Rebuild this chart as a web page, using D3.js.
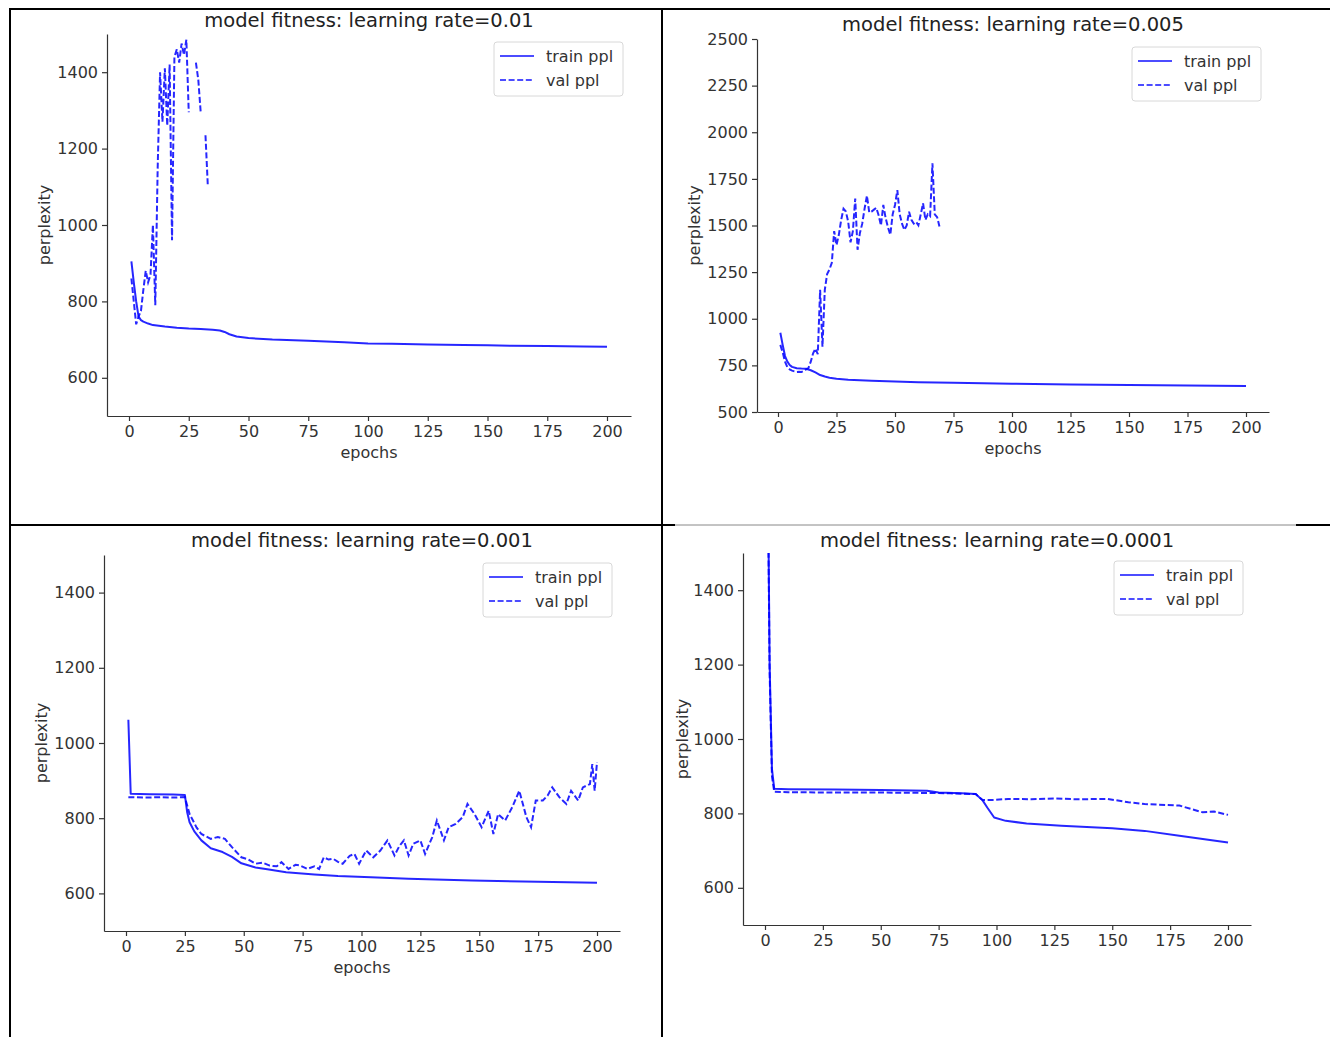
<!DOCTYPE html>
<html>
<head>
<meta charset="utf-8">
<script src="https://cdn.jsdelivr.net/npm/d3@7"></script>
<style>
  body { margin: 0; background: #fff; }
  svg { display: block; }
</style>
</head>
<body>
<script>
// values
const titles = [
  "model fitness: learning rate=0.01",
  "model fitness: learning rate=0.005",
  "model fitness: learning rate=0.001",
  "model fitness: learning rate=0.0001"
];
const xTicks = [0, 25, 50, 75, 100, 125, 150, 175, 200];
const yTicksSmall = [600, 800, 1000, 1200, 1400];
const yTicksBig = [500, 750, 1000, 1250, 1500, 1750, 2000, 2250, 2500];

// lr = 0.01
const trainEpochs1 = [1, 2, 3, 4, 5, 6, 8, 10, 15, 20, 25, 30, 35, 38, 40, 42, 45, 50, 60, 75, 90, 100, 110, 125, 140, 150, 160, 175, 190, 200];
const trainPpl1 = [905, 850, 800, 760, 751, 747, 742, 738, 734, 731, 729, 728, 726, 724, 720, 714, 708, 704, 700, 697, 693, 690, 689, 687, 686, 685, 684, 683, 682, 681];
const valEpochs1 = [1, 2, 3, 4, 5, 6, 7, 8, 9, 10, 11, 12, 13, 14, 15, 16, 17, 18, 19, 20, 21, 22, 23, 24, 25, 26, 27, 28, 29, 30, 31, 32, 33];
const valPpl1 = [860, 800, 740, 760, 775, 830, 880, 850, 870, 1000, 790, 1150, 1400, 1270, 1410, 1260, 1420, 960, 1440, 1460, 1425, 1475, 1445, 1485, 1295, null, null, 1425, 1380, 1295, null, 1235, 1100];

// lr = 0.005
const trainEpochs2 = [1, 2, 3, 4, 5, 6, 8, 10, 12, 14, 16, 18, 20, 22, 25, 30, 40, 50, 60, 75, 100, 125, 150, 175, 200];
const trainPpl2 = [925, 860, 800, 770, 752, 742, 735, 733, 732, 724, 712, 698, 690, 684, 678, 673, 668, 664, 660, 657, 652, 648, 645, 642, 639];
const valEpochs2 = [1, 2, 3, 4, 5, 6, 7, 8, 9, 10, 11, 12, 13, 14, 15, 16, 17, 18, 19, 20, 21, 22, 23, 24, 25, 26, 27, 28, 29, 30, 31, 32, 33, 34, 35, 36, 37, 38, 39, 40, 41, 42, 43, 44, 45, 46, 47, 48, 49, 50, 51, 52, 53, 54, 55, 56, 57, 58, 59, 60, 61, 62, 63, 64, 65, 66, 67, 68, 69];
const valPpl2 = [860, 820, 770, 740, 728, 722, 718, 715, 716, 715, 720, 728, 735, 770, 815, 840, 810, 1155, 850, 1155, 1240, 1265, 1300, 1470, 1395, 1450, 1530, 1590, 1575, 1520, 1410, 1470, 1645, 1370, 1460, 1510, 1590, 1660, 1570, 1575, 1585, 1595, 1555, 1500, 1610, 1540, 1490, 1450, 1560, 1610, 1690, 1560, 1510, 1476, 1500, 1574, 1530, 1510, 1520, 1501, 1560, 1619, 1530, 1560, 1550, 1833, 1560, 1545, 1495];

// lr = 0.001
const trainEpochs3 = [1, 2, 10, 20, 25, 26, 27, 29, 32, 36, 41, 45, 49, 55, 60, 68, 80, 90, 104, 120, 147, 175, 200];
const trainPpl3 = [1062, 865, 864, 863, 862, 815, 789, 765, 741, 720, 710, 697, 680, 669, 664, 656, 650, 646, 643, 639, 634, 631, 628];
const valEpochs3 = [1, 10, 15, 20, 25, 27, 30, 32, 36, 39, 42, 45, 49, 52, 55, 58, 61, 64, 66, 69, 72, 74, 77, 80, 82, 84, 86, 88, 90, 92, 95, 97, 99, 102, 105, 108, 111, 114, 116, 118, 120, 122, 125, 127, 130, 132, 135, 137, 140, 143, 145, 148, 151, 154, 156, 158, 161, 164, 167, 170, 172, 174, 177, 179, 181, 184, 187, 189, 192, 194, 197, 198, 199, 200];
const valPpl3 = [856, 855, 856, 855, 856, 811, 775, 758, 745, 750, 745, 723, 696, 690, 679, 682, 674, 672, 683, 665, 676, 674, 665, 672, 665, 696, 690, 692, 684, 679, 700, 705, 679, 714, 696, 714, 741, 701, 725, 741, 701, 732, 741, 705, 749, 794, 741, 776, 785, 803, 838, 811, 776, 820, 758, 811, 794, 829, 873, 803, 776, 847, 847, 860, 882, 856, 838, 873, 847, 882, 891, 944, 873, 949];

// lr = 0.0001
const trainEpochs4 = [1, 2, 3, 4, 10, 30, 50, 70, 75, 85, 91, 94, 96, 99, 104, 113, 128, 150, 164, 179, 200];
const trainPpl4 = [1900, 1200, 920, 866, 865, 864, 863, 861, 856, 854, 852, 835, 816, 789, 780, 773, 767, 760, 753, 740, 722];
const valEpochs4 = [1, 2, 3, 4, 10, 30, 50, 70, 80, 91, 94, 99, 105, 115, 125, 135, 148, 157, 164, 179, 184, 189, 194, 200];
const valPpl4 = [1850, 1180, 900, 858, 857, 856, 856, 855, 854, 852, 836, 836, 839, 838, 840, 838, 839, 830, 825, 821, 812, 803, 805, 796];

const W = 1330, H = 1037;
const blue = "#0000ff";
const font = "DejaVu Sans, sans-serif";
const dash = "6,2.6";

const svg = d3.select("body").append("svg")
  .attr("width", W).attr("height", H)
  .attr("viewBox", [0, 0, W, H]);

// table borders of the document
const border = svg.append("g").attr("stroke", "#000");
border.append("line").attr("x1", 9).attr("x2", 1330).attr("y1", 9).attr("y2", 9).attr("stroke-width", 2);
border.append("line").attr("x1", 10).attr("x2", 10).attr("y1", 9).attr("y2", 1037).attr("stroke-width", 2);
border.append("line").attr("x1", 662).attr("x2", 662).attr("y1", 9).attr("y2", 1037).attr("stroke-width", 2);
border.append("line").attr("x1", 10).attr("x2", 675).attr("y1", 525).attr("y2", 525).attr("stroke-width", 2);
border.append("line").attr("x1", 675).attr("x2", 1296).attr("y1", 525).attr("y2", 525).attr("stroke-width", 1).attr("stroke", "#888");
border.append("line").attr("x1", 1296).attr("x2", 1330).attr("y1", 525).attr("y2", 525).attr("stroke-width", 2);

const panels = [
  { title: titles[0], left: 107, right: 631, top: 34, bottom: 416, x0: 129, x200: 607, yDom: [500, 1500], yTicks: yTicksSmall,
    titleY: 27, xlabel: true, ylabelX: 45,
    train: [trainEpochs1, trainPpl1], val: [valEpochs1, valPpl1] },
  { title: titles[1], left: 757, right: 1269, top: 39, bottom: 412, x0: 778, x200: 1246, yDom: [500, 2500], yTicks: yTicksBig,
    titleY: 31, xlabel: true, ylabelX: 695,
    train: [trainEpochs2, trainPpl2], val: [valEpochs2, valPpl2] },
  { title: titles[2], left: 104, right: 620, top: 555, bottom: 931, x0: 126, x200: 597, yDom: [500, 1500], yTicks: yTicksSmall,
    titleY: 547, xlabel: true, ylabelX: 42,
    train: [trainEpochs3, trainPpl3], val: [valEpochs3, valPpl3] },
  { title: titles[3], left: 743, right: 1251, top: 553, bottom: 925, x0: 765, x200: 1228, yDom: [500, 1500], yTicks: yTicksSmall,
    titleY: 547, xlabel: false, ylabelX: 683,
    train: [trainEpochs4, trainPpl4], val: [valEpochs4, valPpl4] }
];

panels.forEach((p, i) => {
  const pxPerEpoch = (p.x200 - p.x0) / 200;
  const x = d3.scaleLinear()
    .domain([(p.left - p.x0) / pxPerEpoch, (p.right - p.x0) / pxPerEpoch])
    .range([p.left, p.right]);
  const y = d3.scaleLinear().domain(p.yDom).range([p.bottom, p.top]);

  const g = svg.append("g");

  g.append("clipPath").attr("id", "clip" + i)
    .append("rect")
    .attr("x", p.left).attr("y", p.top)
    .attr("width", p.right - p.left).attr("height", p.bottom - p.top);

  const line = d3.line()
    .defined(d => d[1] != null)
    .x(d => x(d[0]))
    .y(d => y(d[1]));

  const trainData = p.train[0].map((e, k) => [e, p.train[1][k]]);
  const valData = p.val[0].map((e, k) => [e, p.val[1][k]]);

  const plot = g.append("g").attr("clip-path", `url(#clip${i})`);
  plot.append("path")
    .attr("d", line(trainData))
    .attr("fill", "none").attr("stroke", blue).attr("stroke-opacity", 0.85)
    .attr("stroke-width", 2).attr("stroke-linejoin", "round");
  plot.append("path")
    .attr("d", line(valData))
    .attr("fill", "none").attr("stroke", blue).attr("stroke-opacity", 0.85)
    .attr("stroke-width", 2).attr("stroke-dasharray", dash);

  // axes (left and bottom spines only)
  const xAxis = g.append("g")
    .attr("transform", `translate(0,${p.bottom})`)
    .call(d3.axisBottom(x).tickValues(xTicks).tickFormat(d3.format("d"))
      .tickSize(5).tickPadding(5).tickSizeOuter(0));
  const yAxis = g.append("g")
    .attr("transform", `translate(${p.left},0)`)
    .call(d3.axisLeft(y).tickValues(p.yTicks).tickFormat(d3.format("d"))
      .tickSize(5).tickPadding(4).tickSizeOuter(0));
  [xAxis, yAxis].forEach(a => {
    a.selectAll("path, line").attr("stroke", "#333").attr("stroke-width", 1.2);
    a.selectAll("text").attr("font-family", font).attr("font-size", 16).attr("fill", "#333");
  });

  g.append("text")
    .attr("x", (p.left + p.right) / 2).attr("y", p.titleY)
    .attr("text-anchor", "middle")
    .attr("font-family", font).attr("font-size", 19.5).attr("fill", "#222")
    .text(p.title);

  if (p.xlabel) {
    g.append("text")
      .attr("x", (p.left + p.right) / 2).attr("y", p.bottom + 42)
      .attr("text-anchor", "middle")
      .attr("font-family", font).attr("font-size", 16).attr("fill", "#333")
      .text("epochs");
  }

  g.append("text")
    .attr("transform", `translate(${p.ylabelX + 5},${(p.top + p.bottom) / 2}) rotate(-90)`)
    .attr("text-anchor", "middle")
    .attr("font-family", font).attr("font-size", 16).attr("fill", "#333")
    .text("perplexity");

  // legend
  const lw = 129, lh = 54;
  const lx = p.right - 8 - lw, ly = p.top + 8;
  const leg = g.append("g").attr("transform", `translate(${lx},${ly})`);
  leg.append("rect")
    .attr("width", lw).attr("height", lh).attr("rx", 3)
    .attr("fill", "#fff").attr("fill-opacity", 0.8)
    .attr("stroke", "#d8d8d8").attr("stroke-width", 1);
  const items = [["train ppl", null], ["val ppl", dash]];
  items.forEach(([label, d], k) => {
    const yy = 14 + k * 24;
    leg.append("line")
      .attr("x1", 6).attr("x2", 40).attr("y1", yy).attr("y2", yy)
      .attr("stroke", blue).attr("stroke-opacity", 0.7).attr("stroke-width", 2)
      .attr("stroke-dasharray", d);
    leg.append("text")
      .attr("x", 52).attr("y", yy + 5.5)
      .attr("font-family", font).attr("font-size", 16).attr("fill", "#333")
      .text(label);
  });
});
</script>
</body>
</html>
